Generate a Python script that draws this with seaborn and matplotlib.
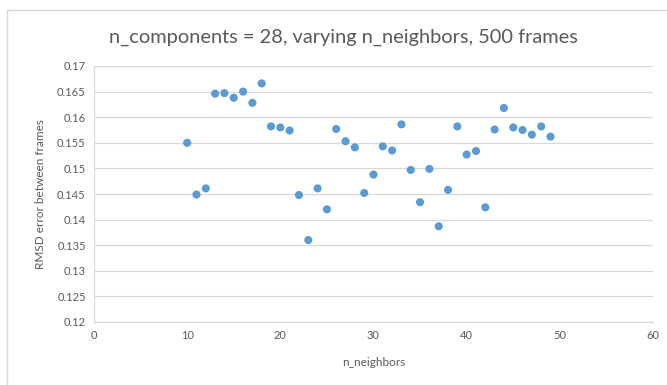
import numpy as np
import pandas as pd
import matplotlib
matplotlib.use("Agg")
import matplotlib.pyplot as plt
import seaborn as sns
from matplotlib.patches import Rectangle

# n_neighbors and RMSD
n_neighbors = list(range(10, 50))
rmsd = [0.1550, 0.1449, 0.1461, 0.1646, 0.1647, 0.1638, 0.1650, 0.1628, 0.1666, 0.1582,
        0.1580, 0.1574, 0.1448, 0.1360, 0.1461, 0.1420, 0.1577, 0.1553, 0.1541, 0.1452,
        0.1488, 0.1543, 0.1535, 0.1586, 0.1497, 0.1434, 0.1499, 0.1387, 0.1458, 0.1582,
        0.1527, 0.1534, 0.1424, 0.1576, 0.1618, 0.1580, 0.1575, 0.1566, 0.1582, 0.1562]
x_ticks = [0, 10, 20, 30, 40, 50, 60]
y_ticks = [0.12, 0.125, 0.13, 0.135, 0.14, 0.145, 0.15, 0.155, 0.16, 0.165, 0.17]

df = pd.DataFrame({"n_neighbors": n_neighbors, "rmsd": rmsd})

sns.set_theme(style="white")
plt.rcParams['font.family'] = ['Lato', 'DejaVu Sans']

grey = "#595959"
grid = "#D9D9D9"

fig = plt.figure(figsize=(6.67, 3.85), dpi=100)
ax = fig.add_axes([94 / 667, 1 - 322 / 385, (653 - 94) / 667, (322 - 66) / 385])

# chart area border (Excel style)
fig.patches.append(Rectangle((7 / 667, -0.1), 1.1, 1 - 10 / 385 + 0.1,
                             transform=fig.transFigure, fill=False,
                             edgecolor="#D9D9D9", linewidth=1.0))

sns.scatterplot(data=df, x="n_neighbors", y="rmsd", ax=ax, color="#5B9BD5",
                s=34, edgecolor="none", zorder=3)

ax.set_xlim(0, 60)
ax.set_ylim(0.12, 0.17)
ax.set_xticks(x_ticks)
ax.set_xticklabels([str(t) for t in x_ticks])
ax.set_yticks(y_ticks)
ax.set_yticklabels([f"{t:g}" for t in y_ticks])
ax.tick_params(axis="both", colors=grey, labelsize=8, length=0, pad=6)
ax.yaxis.grid(True, color=grid, linewidth=0.9)
ax.xaxis.grid(False)
for side in ["top", "right"]:
    ax.spines[side].set_visible(False)
for side in ["left", "bottom"]:
    ax.spines[side].set_color(grid)
    ax.spines[side].set_linewidth(0.9)

ax.set_xlabel("n_neighbors", color=grey, fontsize=8.5, labelpad=11)
ax.set_ylabel("RMSD error between frames", color=grey, fontsize=8.5, labelpad=8)
fig.text(343 / 667, 1 - 37 / 385, "n_components = 28, varying n_neighbors, 500 frames",
         ha="center", va="center", fontsize=14.4, color=grey)

fig.savefig("out.png", dpi=100, facecolor="white")
